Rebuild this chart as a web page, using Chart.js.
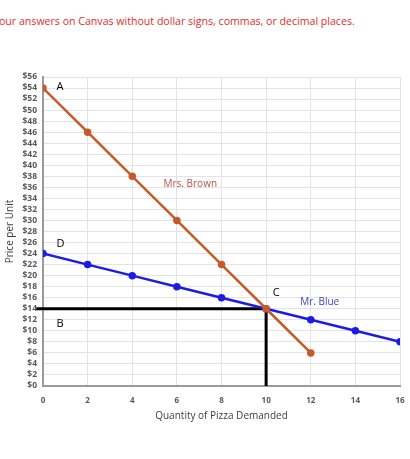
<!DOCTYPE html>
<html><head><meta charset="utf-8">
<script src="https://cdn.jsdelivr.net/npm/chart.js@4"></script>
<style>
html,body{margin:0;padding:0;background:#fff;width:410px;height:459px;overflow:hidden;}
#wrap{position:absolute;left:0;top:0;width:410px;height:459px;}
#note{position:absolute;left:-1px;top:14px;font-family:"Open Sans",sans-serif;font-size:10.6px;color:#e32b2b;white-space:nowrap;}
</style></head><body>
<div id="note">our answers on Canvas without dollar signs, commas, or decimal places.</div>
<div id="wrap"><canvas id="c" width="410" height="459"></canvas></div>
<script>
const quantities = [0,2,4,6,8,10,12,14,16];
const brownPrices = [54,46,38,30,22,14,6];
const bluePrices = [24,22,20,18,16,14,12,10,8];
const guideX = [-0.3,10,10];
const guideY = [14,14,0];
const xTicks = [0,2,4,6,8,10,12,14,16];
const yTickMax = 56;
const annotations = [
  {text:'A', x:0.6, y:54.2, color:'#000', size:11},
  {text:'D', x:0.6, y:25.8, color:'#000', size:11},
  {text:'B', x:0.6, y:11.3, color:'#000', size:11},
  {text:'C', x:10.3, y:16.8, color:'#000', size:11},
  {text:'Mrs. Brown', x:6.6, y:36.6, color:'#c0504d', size:10},
  {text:'Mr. Blue', x:12.4, y:15.2, color:'#3f3fcf', size:10}
];
const toXY = (xs, ys) => ys.map((v,i)=>({x:xs[i], y:v}));

const labelPlugin = {
  id:'labels',
  afterDatasetsDraw(chart){
    const {ctx, scales:{x,y}} = chart;
    ctx.save();
    ctx.textBaseline='middle';
    annotations.forEach(a=>{
      ctx.font = a.size+'px "Open Sans", sans-serif';
      ctx.fillStyle = a.color;
      ctx.textAlign = a.text.length>1 ? 'center':'left';
      ctx.fillText(a.text, x.getPixelForValue(a.x), y.getPixelForValue(a.y));
    });
    ctx.restore();
  }
};

new Chart(document.getElementById('c'), {
  type:'line',
  data:{
    datasets:[
      {label:'guide', data:toXY(guideX,guideY), borderColor:'#000', borderWidth:3, pointRadius:0, clip:false, tension:0, borderCapStyle:'butt', order:3},
      {label:'Mrs. Brown', data:toXY(quantities,brownPrices), borderColor:'#c65a28', backgroundColor:'#c65a28', borderWidth:2.5, pointRadius:2.5, pointHoverRadius:2.5, tension:0, order:1},
      {label:'Mr. Blue', data:toXY(quantities,bluePrices), borderColor:'#1c1ce6', backgroundColor:'#1c1ce6', borderWidth:2.5, pointRadius:2.5, pointHoverRadius:2.5, tension:0, order:2}
    ]
  },
  options:{
    responsive:false, animation:false, events:[],
    layout:{padding:{top:77, right:10, left:0, bottom:33}},
    plugins:{legend:{display:false}, tooltip:{enabled:false}},
    scales:{
      x:{type:'linear', min:0, max:16,
        afterBuildTicks(s){ s.ticks = xTicks.map(v=>({value:v})); },
        afterFit(s){ s.height = 40; s.paddingRight = 0; s.paddingLeft = 0; },
        grid:{color:'#e3e3e3', lineWidth:1, drawTicks:false},
        border:{color:'#9a9a9a', width:2},
        ticks:{color:'#595959', font:{family:'"Open Sans", sans-serif', size:8, weight:'bold'}, padding:10, maxRotation:0},
        title:{display:true, text:'Quantity of Pizza Demanded', color:'#404040', font:{family:'"Open Sans", sans-serif', size:10}, padding:{top:2}}
      },
      y:{type:'linear', min:0, max:yTickMax,
        afterBuildTicks(s){ const t=[]; for(let v=0; v<=yTickMax; v+=2) t.push({value:v}); s.ticks=t; },
        afterFit(s){ s.width = 43; s.paddingTop = 0; s.paddingBottom = 0; },
        grid:{color:'#e3e3e3', lineWidth:1, drawTicks:false},
        border:{color:'#9a9a9a', width:2},
        ticks:{color:'#595959', font:{family:'"Open Sans", sans-serif', size:8.5, weight:'bold'}, padding:6, autoSkip:false, callback:v=>'$'+v},
        title:{display:true, text:'Price per Unit', color:'#404040', font:{family:'"Open Sans", sans-serif', size:10}, padding:{bottom:0}}
      }
    }
  },
  plugins:[labelPlugin]
});
</script>
</body></html>
